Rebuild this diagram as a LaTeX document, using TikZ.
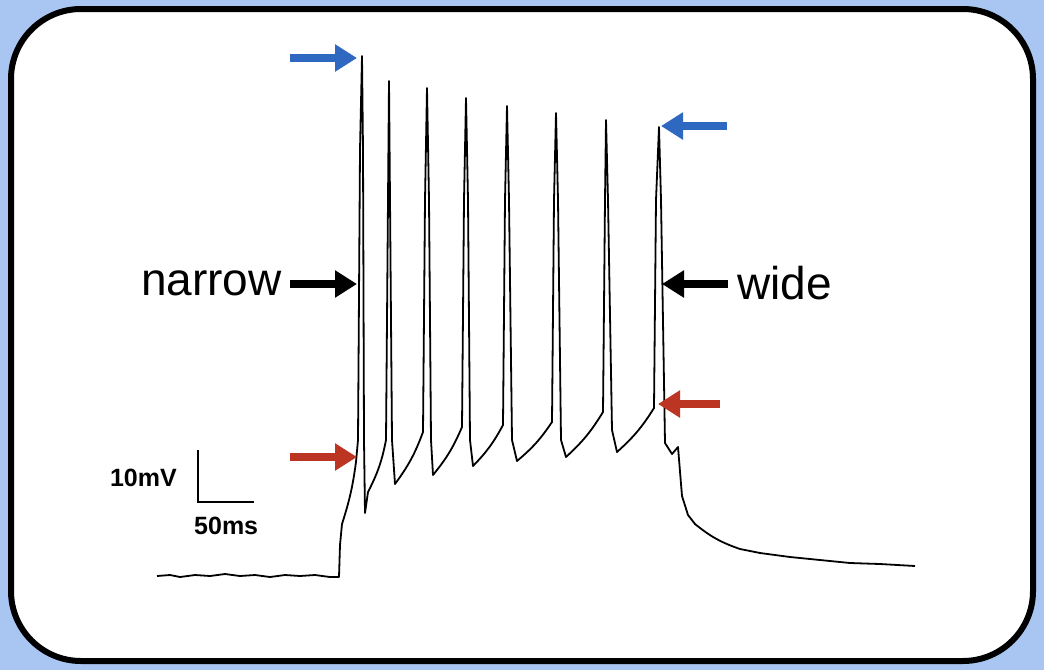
\documentclass[tikz,border=0pt]{standalone}
\usepackage{fontspec}
\setmainfont{Liberation Sans}
\usetikzlibrary{arrows.meta}
\definecolor{bgblue}{HTML}{A9C6F2}
\definecolor{ablue}{HTML}{2F68C0}
\definecolor{ared}{HTML}{BC3522}
\tikzset{
  arr/.style={line width=7.5pt,-{Triangle[length=22pt,width=26pt]}},
  lbl/.style={font=\fontsize{46}{50}\selectfont,inner sep=0pt},
  sc/.style={font=\bfseries\fontsize{25}{28}\selectfont,inner sep=0pt},
  trace/.style={line width=1.8pt,line join=round}
}
\begin{document}
\begin{tikzpicture}[x=1pt,y=-1pt]
\fill[bgblue] (0,0) rectangle (1044,670);
\useasboundingbox (0,0) rectangle (1044,670);
\draw[line width=6pt,fill=white,rounded corners=70pt] (11,9) rectangle (1033,661);
% trace
\draw[trace] (157,576) -- (170,575) -- (180,577) -- (195,575) -- (210,576) -- (225,574) -- (240,576) -- (255,575) -- (270,577) -- (285,575) -- (300,576) -- (315,575) -- (330,577) -- (339,577)
 -- (340,545) -- (342,524) to[bend right=5] (356,462) -- (358,440) -- (360,150) -- (362,56) -- (363,150) -- (364,440) -- (365,513)
 -- (368,492) to[bend right=8] (386,440) -- (388,200) -- (389,81) -- (390,200) -- (392,440) -- (395,484)
 to[bend right=8] (423,432) -- (425,200) -- (427,88) -- (429,200) -- (431,440) -- (433,475)
 to[bend right=8] (462,427) -- (464,200) -- (466,98) -- (468,200) -- (470,440) -- (473,466)
 to[bend right=8] (503,425) -- (505,200) -- (507,106) -- (509,200) -- (512,440) -- (517,461)
 to[bend right=8] (552,422) -- (554,200) -- (556,113) -- (558,200) -- (561,440) -- (566,457)
 to[bend right=8] (603,412) -- (605,200) -- (606,120) -- (608,200) -- (612,430) -- (617,452)
 to[bend right=8] (654,408) -- (656,200) -- (659,127) -- (661,200) -- (665,443) -- (672,454) -- (678,447) -- (682,496) -- (688,515) -- (695,524) to[bend right=10] (740,549)
 -- (760,553) -- (790,557) -- (820,560) -- (850,563) -- (880,564) -- (915,566);
% arrows
\coordinate (b1s) at (290,58); \coordinate (b1e) at (357,58);
\coordinate (b2s) at (727,126); \coordinate (b2e) at (661,126);
\coordinate (k1s) at (290,284); \coordinate (k1e) at (357,284);
\coordinate (k2s) at (728,284); \coordinate (k2e) at (662,284);
\coordinate (r1s) at (290,457); \coordinate (r1e) at (357,457);
\coordinate (r2s) at (720,404); \coordinate (r2e) at (658,404);
\draw[arr,ablue] (b1s) -- (b1e);
\draw[arr,ablue] (b2s) -- (b2e);
\draw[arr,black] (k1s) -- (k1e);
\draw[arr,black] (k2s) -- (k2e);
\draw[arr,ared] (r1s) -- (r1e);
\draw[arr,ared] (r2s) -- (r2e);
\node[lbl,anchor=east] (nar) at (282,283) {narrow};
\node[lbl,anchor=west] (wid) at (737,283) {wide};
% scale bar
\coordinate (s0) at (198,450); \coordinate (s1) at (198,502); \coordinate (s2) at (254,502);
\draw[line width=1.5pt] (s0) -- (s1) -- (s2);
\node[sc,anchor=east] (mv) at (177,478) {10mV};
\node[sc,anchor=west] (ms) at (194,526) {50ms};
\end{tikzpicture}
\end{document}
